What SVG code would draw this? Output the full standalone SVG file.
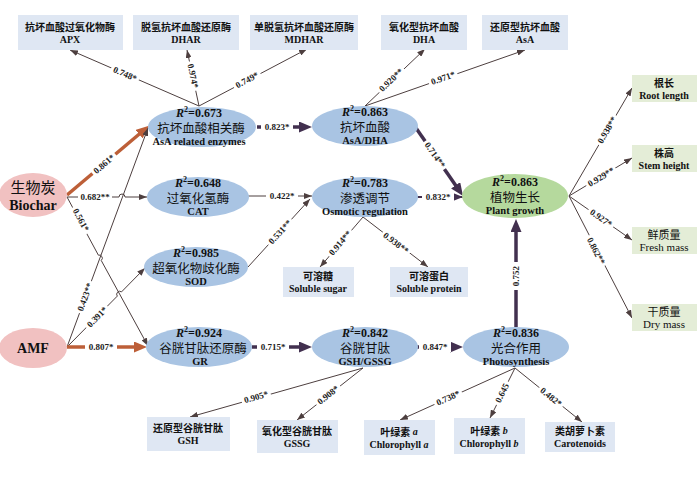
<svg xmlns="http://www.w3.org/2000/svg" width="700" height="479" viewBox="0 0 700 479">
<defs>
<style>
text{text-anchor:middle;dominant-baseline:central;fill:#111}
.r2{font:bold 12px "Liberation Serif",serif}
.cn{font:12.5px "Noto Sans CJK SC",sans-serif}
.en{font:bold 10.5px "Liberation Serif",serif}
.bcn{font:bold 10px "Noto Sans CJK SC",sans-serif}
.ben{font:bold 10px "Liberation Serif",serif}
.rcn{font:11px "Noto Sans CJK SC",sans-serif}
.ren{font:11px "Liberation Serif",serif}
.ell{fill:#a9c4e3}
.box{fill:#dfe7f3}
.gbox{fill:#e4edd7}
.thin{fill:none;stroke:#4d3f3f;stroke-width:1}
.or{fill:none;stroke:#bd5f38;stroke-width:3.5}
.pu{fill:none;stroke:#42304f;stroke-width:3.5}
.pm{fill:none;stroke:#42304f;stroke-width:1.8}
.lb rect{fill:#fff}
.lb text{font:bold 9px "Liberation Serif",serif;fill:#222}
</style>
<marker id="at" markerUnits="userSpaceOnUse" markerWidth="8" markerHeight="6" refX="8" refY="3" orient="auto"><path d="M0,0 L8,3 L0,6 z" fill="#4d3f3f"/></marker>
<marker id="am" markerUnits="userSpaceOnUse" markerWidth="10" markerHeight="8" refX="10" refY="4" orient="auto"><path d="M0,0 L10,4 L0,8 z" fill="#42304f"/></marker>
<marker id="ap" markerUnits="userSpaceOnUse" markerWidth="13" markerHeight="11" refX="5" refY="5.5" orient="auto"><path d="M0,0 L13,5.5 L0,11 z" fill="#42304f"/></marker>
<marker id="ao" markerUnits="userSpaceOnUse" markerWidth="13" markerHeight="11" refX="5" refY="5.5" orient="auto"><path d="M0,0 L13,5.5 L0,11 z" fill="#bd5f38"/></marker>
</defs>
<rect width="700" height="479" fill="#fff"/>

<g id="connectors">
<path class="or" d="M67,195 L142.9,131" marker-end="url(#ao)"/>
<path class="thin" d="M67,197 H119 A3,3 0 0 1 125,197 H147" marker-end="url(#at)"/>
<path class="thin" d="M67,197 L98.4,255.2 A3,3 0 0 1 101.2,260.4 L148,346" marker-end="url(#at)"/>
<path class="thin" d="M67,347 L148,128" marker-end="url(#at)"/>
<path class="thin" d="M67,347 L117.3,296.1 A3,3 0 0 1 121.5,291.9 L145,268" marker-end="url(#at)"/>
<path class="or" d="M67,347 H139" marker-end="url(#ao)"/>
<path class="pu" d="M257,127 H304" marker-end="url(#ap)"/>
<path class="thin" d="M248,196 H312" marker-end="url(#at)"/>
<path class="thin" d="M248,267 L310,199" marker-end="url(#at)"/>
<path class="pu" d="M252,347 H304" marker-end="url(#ap)"/>
<path class="pu" d="M417,347 H455" marker-end="url(#ap)"/>
<path class="pm" d="M417,197 H463" marker-end="url(#am)"/>
<path class="pu" d="M416,128 L458.5,189.4" marker-end="url(#ap)"/>
<path class="pu" d="M516,327 V227" marker-end="url(#ap)"/>
<path class="thin" d="M199,106 L70,50" marker-end="url(#at)"/>
<path class="thin" d="M199,106 L187,50" marker-end="url(#at)"/>
<path class="thin" d="M199,106 L307,49" marker-end="url(#at)"/>
<path class="thin" d="M365,106 L425,49" marker-end="url(#at)"/>
<path class="thin" d="M365,106 L525,50" marker-end="url(#at)"/>
<path class="thin" d="M569,196 L632,88" marker-end="url(#at)"/>
<path class="thin" d="M569,196 L632,158" marker-end="url(#at)"/>
<path class="thin" d="M569,196 L632,240" marker-end="url(#at)"/>
<path class="thin" d="M569,196 L632,318" marker-end="url(#at)"/>
<path class="thin" d="M363,217 L320,267" marker-end="url(#at)"/>
<path class="thin" d="M363,217 L428,267" marker-end="url(#at)"/>
<path class="thin" d="M363,368 L190,417" marker-end="url(#at)"/>
<path class="thin" d="M363,368 L297,420" marker-end="url(#at)"/>
<path class="thin" d="M515,368 L400,420" marker-end="url(#at)"/>
<path class="thin" d="M515,368 L490,418" marker-end="url(#at)"/>
<path class="thin" d="M515,368 L582,422" marker-end="url(#at)"/>

<g class="lb" transform="translate(104,164) rotate(-40.5)"><rect x="-15" y="-5" width="30" height="10"/><text>0.861*</text></g>
<g class="lb" transform="translate(95,197)"><rect x="-17" y="-5" width="34" height="10"/><text>0.682**</text></g>
<g class="lb" transform="translate(81,220) rotate(61.6)"><rect x="-15" y="-5" width="30" height="10"/><text>0.561*</text></g>
<g class="lb" transform="translate(85,297) rotate(-69.8)"><rect x="-17" y="-5" width="34" height="10"/><text>0.423**</text></g>
<g class="lb" transform="translate(97,317) rotate(-45.4)"><rect x="-15" y="-5" width="30" height="10"/><text>0.391*</text></g>
<g class="lb" transform="translate(101,347)"><rect x="-16" y="-5" width="32" height="10"/><text>0.807*</text></g>
<g class="lb" transform="translate(277,127)"><rect x="-16" y="-5" width="32" height="10"/><text>0.823*</text></g>
<g class="lb" transform="translate(282,196)"><rect x="-16" y="-5" width="32" height="10"/><text>0.422*</text></g>
<g class="lb" transform="translate(280,232) rotate(-47.4)"><rect x="-17" y="-5" width="34" height="10"/><text>0.531**</text></g>
<g class="lb" transform="translate(273,347)"><rect x="-16" y="-5" width="32" height="10"/><text>0.715*</text></g>
<g class="lb" transform="translate(435,347)"><rect x="-16" y="-5" width="32" height="10"/><text>0.847*</text></g>
<g class="lb" transform="translate(438,197)"><rect x="-16" y="-5" width="32" height="10"/><text>0.832*</text></g>
<g class="lb" transform="translate(435,155) rotate(55.3)"><rect x="-17" y="-5" width="34" height="10"/><text>0.714**</text></g>
<g class="lb" transform="translate(516,276) rotate(-90)"><rect x="-14" y="-5" width="28" height="10"/><text>0.752</text></g>
<g class="lb" transform="translate(125,74) rotate(23.5)"><rect x="-15" y="-5" width="30" height="10"/><text>0.748*</text></g>
<g class="lb" transform="translate(193,76) rotate(77.9)"><rect x="-15" y="-5" width="30" height="10"/><text>0.974*</text></g>
<g class="lb" transform="translate(247,80) rotate(-27.8)"><rect x="-15" y="-5" width="30" height="10"/><text>0.749*</text></g>
<g class="lb" transform="translate(391,80) rotate(-43.5)"><rect x="-17" y="-5" width="34" height="10"/><text>0.920**</text></g>
<g class="lb" transform="translate(443,78) rotate(-19.3)"><rect x="-15" y="-5" width="30" height="10"/><text>0.971*</text></g>
<g class="lb" transform="translate(607,130) rotate(-59.7)"><rect x="-17" y="-5" width="34" height="10"/><text>0.938**</text></g>
<g class="lb" transform="translate(601,177) rotate(-31.1)"><rect x="-17" y="-5" width="34" height="10"/><text>0.929**</text></g>
<g class="lb" transform="translate(601,218) rotate(34.9)"><rect x="-15" y="-5" width="30" height="10"/><text>0.927*</text></g>
<g class="lb" transform="translate(596,251) rotate(62.7)"><rect x="-17" y="-5" width="34" height="10"/><text>0.862**</text></g>
<g class="lb" transform="translate(340,243) rotate(-49.3)"><rect x="-17" y="-5" width="34" height="10"/><text>0.914**</text></g>
<g class="lb" transform="translate(396,243) rotate(37.6)"><rect x="-17" y="-5" width="34" height="10"/><text>0.938**</text></g>
<g class="lb" transform="translate(256,397) rotate(-15.8)"><rect x="-15" y="-5" width="30" height="10"/><text>0.905*</text></g>
<g class="lb" transform="translate(328,395) rotate(-38.2)"><rect x="-15" y="-5" width="30" height="10"/><text>0.908*</text></g>
<g class="lb" transform="translate(448,398) rotate(-24.3)"><rect x="-15" y="-5" width="30" height="10"/><text>0.738*</text></g>
<g class="lb" transform="translate(502,393) rotate(-63.4)"><rect x="-13" y="-5" width="26" height="10"/><text>0.645</text></g>
<g class="lb" transform="translate(551,397) rotate(38.9)"><rect x="-15" y="-5" width="30" height="10"/><text>0.482*</text></g>
</g>

<g id="biochar"><ellipse cx="33" cy="195" rx="34" ry="22" fill="#f1c1c1"/><text x="33" y="186" style="font:15px 'Noto Sans CJK SC',sans-serif">生物炭</text><text x="33" y="205" style="font:bold 14px 'Liberation Serif',serif">Biochar</text></g>
<g id="amf"><ellipse cx="33" cy="348" rx="34" ry="20" fill="#f1c1c1"/><text x="33" y="348" style="font:bold 14px 'Liberation Serif',serif">AMF</text></g>

<g id="asa-enzymes"><ellipse class="ell" cx="202" cy="127" rx="54" ry="20"/><text class="r2" x="199" y="113"><tspan font-style="italic">R</tspan><tspan dy="-4" font-size="8">2</tspan><tspan dy="4">=0.673</tspan></text><text class="cn" x="201" y="127">抗坏血酸相关酶</text><text class="en" x="199" y="141">AsA related enzymes</text></g>
<g id="asa-dha"><ellipse class="ell" cx="365" cy="126" rx="53" ry="20"/><text class="r2" x="365" y="112"><tspan font-style="italic">R</tspan><tspan dy="-4" font-size="8">2</tspan><tspan dy="4">=0.863</tspan></text><text class="cn" x="365" y="126">抗坏血酸</text><text class="en" x="365" y="140">AsA/DHA</text></g>
<g id="cat"><ellipse class="ell" cx="198" cy="197" rx="51" ry="20"/><text class="r2" x="198" y="183"><tspan font-style="italic">R</tspan><tspan dy="-4" font-size="8">2</tspan><tspan dy="4">=0.648</tspan></text><text class="cn" x="198" y="197">过氧化氢酶</text><text class="en" x="198" y="211">CAT</text></g>
<g id="osmotic"><ellipse class="ell" cx="365" cy="197" rx="53" ry="20"/><text class="r2" x="365" y="183"><tspan font-style="italic">R</tspan><tspan dy="-4" font-size="8">2</tspan><tspan dy="4">=0.783</tspan></text><text class="cn" x="365" y="197">渗透调节</text><text class="en" x="365" y="211">Osmotic regulation</text></g>
<g id="sod"><ellipse class="ell" cx="196" cy="267" rx="52" ry="20"/><text class="r2" x="196" y="253"><tspan font-style="italic">R</tspan><tspan dy="-4" font-size="8">2</tspan><tspan dy="4">=0.985</tspan></text><text class="cn" x="196" y="267">超氧化物歧化酶</text><text class="en" x="196" y="281">SOD</text></g>
<g id="gr"><ellipse class="ell" cx="199" cy="347" rx="53" ry="20"/><text class="r2" x="199" y="333"><tspan font-style="italic">R</tspan><tspan dy="-4" font-size="8">2</tspan><tspan dy="4">=0.924</tspan></text><text class="cn" x="203" y="347">谷胱甘肽还原酶</text><text class="en" x="200" y="361">GR</text></g>
<g id="gsh-gssg"><ellipse class="ell" cx="365" cy="347" rx="53" ry="20"/><text class="r2" x="365" y="333"><tspan font-style="italic">R</tspan><tspan dy="-4" font-size="8">2</tspan><tspan dy="4">=0.842</tspan></text><text class="cn" x="365" y="347">谷胱甘肽</text><text class="en" x="365" y="361">GSH/GSSG</text></g>
<g id="photosynthesis"><ellipse class="ell" cx="516" cy="347" rx="53" ry="20"/><text class="r2" x="516" y="333"><tspan font-style="italic">R</tspan><tspan dy="-4" font-size="8">2</tspan><tspan dy="4">=0.836</tspan></text><text class="cn" x="516" y="347">光合作用</text><text class="en" x="516" y="361">Photosynthesis</text></g>
<g id="plant-growth"><ellipse cx="515" cy="196" rx="53" ry="22" fill="#b5d99d"/><text class="r2" x="515" y="182"><tspan font-style="italic">R</tspan><tspan dy="-4" font-size="8">2</tspan><tspan dy="4">=0.863</tspan></text><text class="cn" x="515" y="196">植物生长</text><text class="en" x="515" y="210">Plant growth</text></g>

<g id="apx"><rect class="box" x="18" y="15" width="105" height="35"/><text class="bcn" x="70" y="26">抗坏血酸过氧化物酶</text><text class="ben" x="70" y="39">APX</text></g>
<g id="dhar"><rect class="box" x="133" y="15" width="106" height="35"/><text class="bcn" x="186" y="26">脱氢抗坏血酸还原酶</text><text class="ben" x="186" y="39">DHAR</text></g>
<g id="mdhar"><rect class="box" x="250" y="15" width="108" height="35"/><text class="bcn" x="304" y="26">单脱氢抗坏血酸还原酶</text><text class="ben" x="304" y="39">MDHAR</text></g>
<g id="dha"><rect class="box" x="381" y="15" width="86" height="35"/><text class="bcn" x="424" y="26">氧化型抗坏血酸</text><text class="ben" x="424" y="39">DHA</text></g>
<g id="asa"><rect class="box" x="482" y="15" width="86" height="35"/><text class="bcn" x="525" y="26">还原型抗坏血酸</text><text class="ben" x="525" y="39">AsA</text></g>

<g id="root-length"><rect class="gbox" x="632" y="75" width="65" height="27"/><text class="bcn" x="664" y="82">根长</text><text class="ben" x="664" y="95">Root length</text></g>
<g id="stem-height"><rect class="gbox" x="632" y="145" width="65" height="27"/><text class="bcn" x="664" y="152">株高</text><text class="ben" x="664" y="165">Stem height</text></g>
<g id="fresh-mass"><rect class="gbox" x="632" y="227" width="65" height="27"/><text class="rcn" x="664" y="234">鲜质量</text><text class="ren" x="664" y="247">Fresh mass</text></g>
<g id="dry-mass"><rect class="gbox" x="632" y="304" width="65" height="27"/><text class="rcn" x="664" y="311">干质量</text><text class="ren" x="664" y="324">Dry mass</text></g>

<g id="soluble-sugar"><rect class="box" x="283" y="267" width="71" height="30"/><text class="bcn" x="318" y="275">可溶糖</text><text class="ben" x="318" y="288">Soluble sugar</text></g>
<g id="soluble-protein"><rect class="box" x="390" y="267" width="78" height="30"/><text class="bcn" x="429" y="275">可溶蛋白</text><text class="ben" x="429" y="288">Soluble protein</text></g>
<g id="gsh"><rect class="box" x="147" y="417" width="83" height="34"/><text class="bcn" x="188" y="427">还原型谷胱甘肽</text><text class="ben" x="188" y="440">GSH</text></g>
<g id="gssg"><rect class="box" x="257" y="420" width="81" height="33"/><text class="bcn" x="297" y="430">氧化型谷胱甘肽</text><text class="ben" x="297" y="443">GSSG</text></g>
<g id="chl-a"><rect class="box" x="364" y="420" width="71" height="35"/><text class="bcn" x="399" y="431">叶绿素 <tspan font-family="Liberation Serif" font-style="italic">a</tspan></text><text class="ben" x="399" y="444">Chlorophyll <tspan font-style="italic">a</tspan></text></g>
<g id="chl-b"><rect class="box" x="454" y="418" width="71" height="36"/><text class="bcn" x="489" y="430">叶绿素 <tspan font-family="Liberation Serif" font-style="italic">b</tspan></text><text class="ben" x="489" y="443">Chlorophyll <tspan font-style="italic">b</tspan></text></g>
<g id="carotenoids"><rect class="box" x="545" y="422" width="70" height="30"/><text class="bcn" x="580" y="430">类胡萝卜素</text><text class="ben" x="580" y="443">Carotenoids</text></g>
</svg>
